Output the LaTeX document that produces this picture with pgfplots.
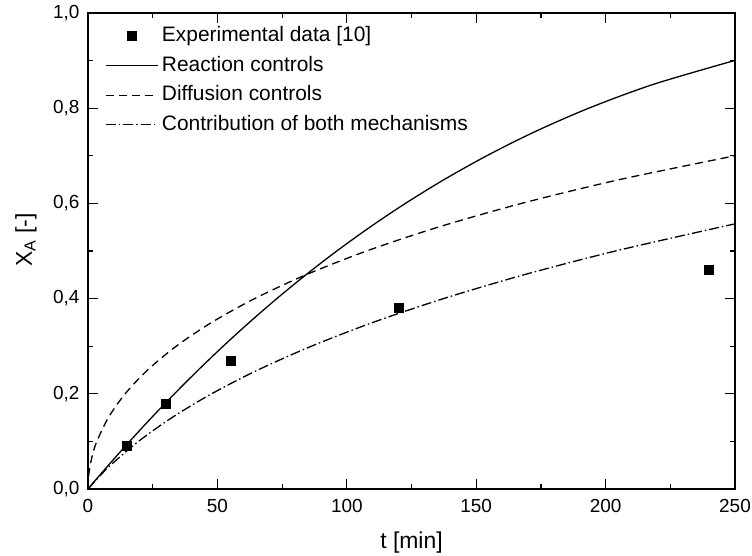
\documentclass[border=0pt]{standalone}
\usepackage{fontspec}
\setmainfont{Liberation Sans}
\usepackage{pgfplots}
\pgfplotsset{compat=1.18}
\pgfplotsset{
  lineleg/.style={legend image code/.code={\draw[##1] (0bp,0bp) -- (52bp,0bp);}},
  markleg/.style={legend image code/.code={\draw[mark repeat=2,mark phase=2,##1] plot coordinates {(0bp,0bp) (26bp,0bp) (52bp,0bp)};}},
}
\begin{document}
\begin{tikzpicture}
\path[use as bounding box] (-88bp,-67bp) rectangle (664bp,489bp);
\begin{axis}[
  at={(0,0)}, anchor=south west,
  scale only axis, width=647bp, height=476bp,
  xmin=0, xmax=250, ymin=0, ymax=1,
  xtick={0,50,100,150,200,250},
  ytick={0,0.2,0.4,0.6,0.8,1.0},
  minor x tick num=1, minor y tick num=1,
  tick align=inside, tick pos=both,
  major tick length=10bp, minor tick length=5bp,
  axis line style={line width=1.4bp},
  every tick/.style={line width=1.2bp, black},
  /pgf/number format/assume math mode=true,
  tick label style={font=\fontsize{19}{22}\selectfont},
  y tick label style={xshift=-5bp, /pgf/number format/.cd, fixed, fixed zerofill, precision=1, use comma},
  x tick label style={yshift=-7bp},
  xlabel={t [min]},
  ylabel={X\textsubscript{A} [-]},
  label style={font=\fontsize{23}{26}\selectfont},
  xlabel style={at={(axis description cs:0.5,-0.124)}, anchor=base},
  ylabel style={at={(axis description cs:-0.0866,0.523)}, anchor=base, rotate=0},
  legend style={at={(0,1)}, anchor=north west, xshift=17bp, yshift=-13.5bp,
    draw=none, fill=none, inner sep=0pt, row sep=10.5bp,
    font=\fontsize{21}{24}\selectfont,
    nodes={inner sep=0pt, text height=15bp, text depth=4bp},
    cells={anchor=west}},
  lineleg,
]
\addplot[only marks, mark=square*, mark size=4.5bp, black, markleg]
  coordinates {(15,0.09) (30,0.18) (55,0.27) (120,0.38) (240,0.46)};
\addlegendentry{\,Experimental data [10]}
\addplot[black, line width=1.3bp, smooth, mark=none]
  coordinates {(0,0) (3.13,0.02) (7.90,0.05) (16.08,0.10) (24.57,0.15) (33.40,0.20) (42.61,0.25) (52.24,0.30) (62.33,0.35) (72.96,0.40) (84.20,0.45) (96.14,0.50) (108.90,0.55) (122.65,0.60) (137.60,0.65) (154.05,0.70) (172.44,0.75) (193.48,0.80) (218.40,0.85) (250,0.9004)};
\addlegendentry{\,Reaction controls}
\addplot[black, line width=1.3bp, dash pattern=on 8bp off 5bp, smooth, mark=none]
  coordinates {(0,0) (0.033,0.01) (0.13,0.02) (0.30,0.03) (0.83,0.05) (1.90,0.075) (3.41,0.10) (7.87,0.15) (14.35,0.20) (23.03,0.25) (34.10,0.30) (47.80,0.35) (64.40,0.40) (84.22,0.45) (107.66,0.50) (135.23,0.55) (167.52,0.60) (205.38,0.65) (250,0.70)};
\addlegendentry{\,Diffusion controls}
\addplot[black, line width=1.3bp, dash pattern=on 10bp off 3bp on 1.5bp off 3bp, smooth, mark=none]
  coordinates {(0,0) (3.26,0.02) (8.73,0.05) (19.49,0.10) (32.44,0.15) (47.75,0.20) (65.64,0.25) (86.34,0.30) (110.13,0.35) (137.36,0.40) (168.42,0.45) (203.80,0.50) (244.13,0.55) (250,0.5567)};
\addlegendentry{\,Contribution of both mechanisms}
\end{axis}
\end{tikzpicture}
\end{document}
